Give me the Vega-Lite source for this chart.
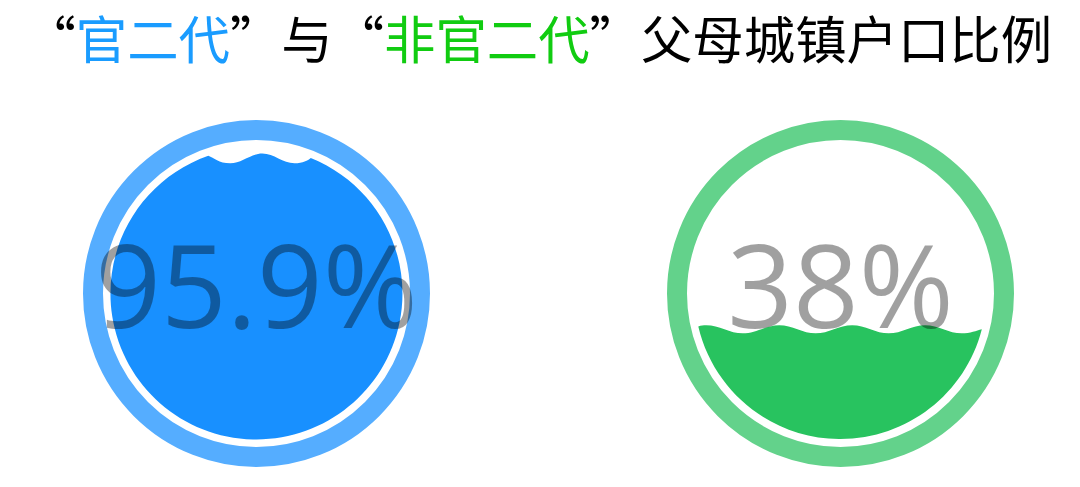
{
  "$schema": "https://vega.github.io/schema/vega-lite/v6.json",
  "padding": 0,
  "spacing": 0,
  "bounds": "flush",
  "background": "white",
  "config": {"view": {"stroke": null}},
  "vconcat": [
    {
      "width": 1080,
      "height": 100,
      "data": {
        "values": [
          {"seg": "“", "start": 0, "part": "plain"},
          {"seg": "官二代", "start": 1, "part": "官二代"},
          {"seg": "”与“", "start": 4, "part": "plain"},
          {"seg": "非官二代", "start": 7, "part": "非官二代"},
          {"seg": "”父母城镇户口比例", "start": 11, "part": "plain"}
        ]
      },
      "mark": {
        "type": "text",
        "align": "left",
        "baseline": "middle",
        "font": "Noto Sans CJK SC",
        "fontSize": 51.4,
        "dy": -6
      },
      "encoding": {
        "x": {
          "field": "start",
          "type": "quantitative",
          "scale": {"domain": [-0.475, 20.545], "nice": false, "zero": false},
          "axis": null
        },
        "text": {"field": "seg", "type": "nominal"},
        "color": {
          "field": "part",
          "type": "nominal",
          "scale": {
            "domain": ["plain", "官二代", "非官二代"],
            "range": ["#000000", "#1a9cff", "#11cc11"]
          },
          "legend": null
        }
      }
    },
    {
      "width": 1080,
      "height": 387,
      "data": {
        "values": [
          {"group": "官二代", "value": 0.959},
          {"group": "非官二代", "value": 0.38}
        ]
      },
      "encoding": {
        "x": {
          "field": "group",
          "type": "nominal",
          "scale": {"type": "point", "domain": ["官二代", "非官二代"], "range": [256.5, 840.5], "padding": 0},
          "axis": null
        }
      },
      "layer": [
        {
          "mark": {
            "type": "point",
            "shape": "circle",
            "size": 106929,
            "filled": false,
            "strokeWidth": 20,
            "opacity": 1
          },
          "encoding": {
            "stroke": {
              "field": "group",
              "type": "nominal",
              "scale": {"domain": ["官二代", "非官二代"], "range": ["#55adff", "#63d28b"]},
              "legend": null
            }
          }
        },
        {
          "mark": {
            "type": "point",
            "size": 85264,
            "filled": true,
            "opacity": 1
          },
          "encoding": {
            "shape": {
              "field": "group",
              "type": "nominal",
              "scale": {
                "domain": ["官二代", "非官二代"],
                "range": [
                  "M -0.33 -0.944 C -0.29 -0.93 -0.26 -0.892 -0.18 -0.892 S -0.04 -0.959 0.04 -0.959 S 0.18 -0.892 0.26 -0.892 C 0.32 -0.892 0.35 -0.91 0.372 -0.928 A 1 1 0 1 1 -0.33 -0.944 Z",
                  "M -0.974 0.226 C -0.955 0.218 -0.94 0.217 -0.92 0.217 C -0.83 0.217 -0.76 0.273 -0.67 0.273 S -0.51 0.217 -0.42 0.217 S -0.26 0.273 -0.17 0.273 S -0.01 0.217 0.08 0.217 S 0.24 0.273 0.33 0.273 S 0.49 0.217 0.58 0.217 S 0.74 0.273 0.83 0.273 C 0.89 0.273 0.93 0.255 0.968 0.245 A 1 1 0 0 1 -0.974 0.226 Z"
                ]
              },
              "legend": null
            },
            "fill": {
              "field": "group",
              "type": "nominal",
              "scale": {"domain": ["官二代", "非官二代"], "range": ["#1890ff", "#28c35f"]},
              "legend": null
            }
          }
        },
        {
          "mark": {
            "type": "text",
            "align": "center",
            "baseline": "middle",
            "font": "Open Sans",
            "fontSize": 115,
            "dy": -1,
            "color": "#000000",
            "opacity": 0.37
          },
          "encoding": {
            "text": {"field": "value", "type": "quantitative", "format": "~%"}
          }
        }
      ]
    }
  ]
}
